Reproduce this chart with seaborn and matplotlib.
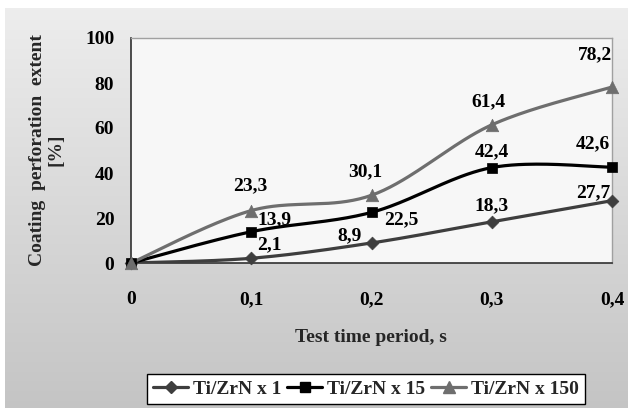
import numpy as np
import pandas as pd
import matplotlib
matplotlib.use("Agg")
import matplotlib.pyplot as plt
from matplotlib.lines import Line2D
import seaborn as sns

# ---- data ----
time_s = [0.0, 0.1, 0.2, 0.3, 0.4]
x_tick_labels = ["0", "0,1", "0,2", "0,3", "0,4"]
y_ticks = [0, 20, 40, 60, 80, 100]
series_names = ["Ti/ZrN x 1", "Ti/ZrN x 15", "Ti/ZrN x 150"]
vals_x1 = [0.0, 2.1, 8.9, 18.3, 27.7]
vals_x15 = [0.0, 13.9, 22.5, 42.4, 42.6]
vals_x150 = [0.0, 23.3, 30.1, 61.4, 78.2]

# ---- style ----
sns.set_theme(style="white")
plt.rcParams['font.family'] = ['Liberation Serif', 'DejaVu Serif']
plt.rcParams['font.weight'] = 'bold'
FS = 14

colors = ["#3e3e3e", "#000000", "#6e6e6e"]
markers = ["D", "s", "^"]
msizes = [6.5, 7.5, 9.0]

# label offsets in pixels (dx, dy) per series/point (index 0 unlabeled)
offsets = [
    [None, (18, 14), (-22, 7), (0, 16), (-19, 8)],
    [None, (23, 12), (30, -7), (0, 16), (-19, 23)],
    [None, (-1, 25), (-6, 24), (-3, 23), (-17, 32)],
]


def smooth(xs, ys, n=40):
    """Excel-like smoothed line (Catmull-Rom via cubic Bezier)."""
    P = np.column_stack([xs, ys]).astype(float)
    Pe = np.vstack([P[0], P, P[-1]])
    out = []
    t = np.linspace(0, 1, n)[:, None]
    for i in range(len(P) - 1):
        p0, p1, p2, p3 = Pe[i], Pe[i + 1], Pe[i + 2], Pe[i + 3]
        c1 = p1 + (p2 - p0) / 6.0
        c2 = p2 - (p3 - p1) / 6.0
        seg = ((1 - t) ** 3) * p1 + 3 * ((1 - t) ** 2) * t * c1 + 3 * (1 - t) * t ** 2 * c2 + t ** 3 * p2
        out.append(seg if i == 0 else seg[1:])
    return np.vstack(out)


W, H = 628, 408
fig = plt.figure(figsize=(W / 100, H / 100), dpi=100)
fig.patch.set_facecolor("white")

# gradient chart-area background
bg = fig.add_axes([5 / W, 0, (W - 5) / W, (H - 8) / H], zorder=-10)
grad = np.linspace(0, 1, 256)[:, None]
c_top = np.array([0.93, 0.93, 0.93])
c_bot = np.array([0.77, 0.77, 0.77])
img = c_top[None, None, :] * (1 - grad[:, :, None]) + c_bot[None, None, :] * grad[:, :, None]
bg.imshow(img, aspect="auto", extent=[0, 1, 0, 1], origin="upper")
bg.set_axis_off()

# plot area: x 131..612, y 38..263 (pixels from top)
L, R, T, B = 131, 612, 38, 263
ax = fig.add_axes([L / W, 1 - B / H, (R - L) / W, (B - T) / H])
ax.set_facecolor("#f7f7f7")

all_vals = [vals_x1, vals_x15, vals_x150]
for k, (name, vals) in enumerate(zip(series_names, all_vals)):
    curve = smooth(time_s, vals)
    df = pd.DataFrame({"t": curve[:, 0], "v": curve[:, 1]})
    sns.lineplot(data=df, x="t", y="v", ax=ax, color=colors[k], lw=2.3,
                 sort=False, estimator=None, zorder=3 + k)
    pts = pd.DataFrame({"t": time_s, "v": vals})
    sns.scatterplot(data=pts, x="t", y="v", ax=ax, marker=markers[k],
                    s=msizes[k] ** 2, color=colors[k], edgecolor=colors[k],
                    linewidth=0.5, zorder=6 + k, clip_on=False)
    for i, (t, v) in enumerate(zip(time_s, vals)):
        off = offsets[k][i]
        if off is None:
            continue
        ax.annotate(f"{v:.1f}".replace(".", ","), (t, v), xytext=off,
                    textcoords="offset pixels", ha="center", va="center",
                    fontsize=FS, fontweight="bold", color="black", zorder=10)

ax.set_xlim(0, 0.4)
ax.set_ylim(0, 100)
ax.set_xticks(time_s)
ax.set_xticklabels(x_tick_labels)
ax.set_yticks(y_ticks)
ax.set_yticklabels([str(v) for v in y_ticks])
ax.set_xlabel("")
ax.set_ylabel("")
ax.tick_params(axis="both", which="major", direction="out", length=6, width=1,
               colors="#303030", labelsize=FS, labelcolor="black")
ax.tick_params(axis="x", pad=14)
ax.tick_params(axis="y", pad=6)
for lab in ax.get_xticklabels() + ax.get_yticklabels():
    lab.set_fontweight("bold")

for side in ["left", "bottom"]:
    ax.spines[side].set_color("#303030")
    ax.spines[side].set_linewidth(1.2)
for side in ["top", "right"]:
    ax.spines[side].set_color("#a0a0a0")
    ax.spines[side].set_linewidth(1.0)

fig.text(371 / W, 1 - 338 / H, "Test time period, s", ha="center", va="center",
         fontsize=FS, fontweight="bold")
fig.text(47 / W, 1 - 150 / H, "Coating  perforation  extent\n[%]", ha="center",
         va="center", rotation=90, fontsize=FS, fontweight="bold", linespacing=1.1)

handles = [Line2D([0], [0], color=colors[k], lw=2.3, marker=markers[k],
                  markersize=msizes[k], markerfacecolor=colors[k],
                  markeredgecolor=colors[k]) for k in range(3)]
leg = fig.legend(handles, series_names, loc="center", ncol=3,
                 bbox_to_anchor=(366 / W, 1 - 389 / H), frameon=True,
                 fancybox=False, edgecolor="black", facecolor="white",
                 framealpha=1, handlelength=1.8, handletextpad=0.25,
                 columnspacing=0.3, borderpad=0.3,
                 prop={"size": FS, "weight": "bold"})
leg.get_frame().set_linewidth(1.0)

fig.savefig("out.png", dpi=100)
